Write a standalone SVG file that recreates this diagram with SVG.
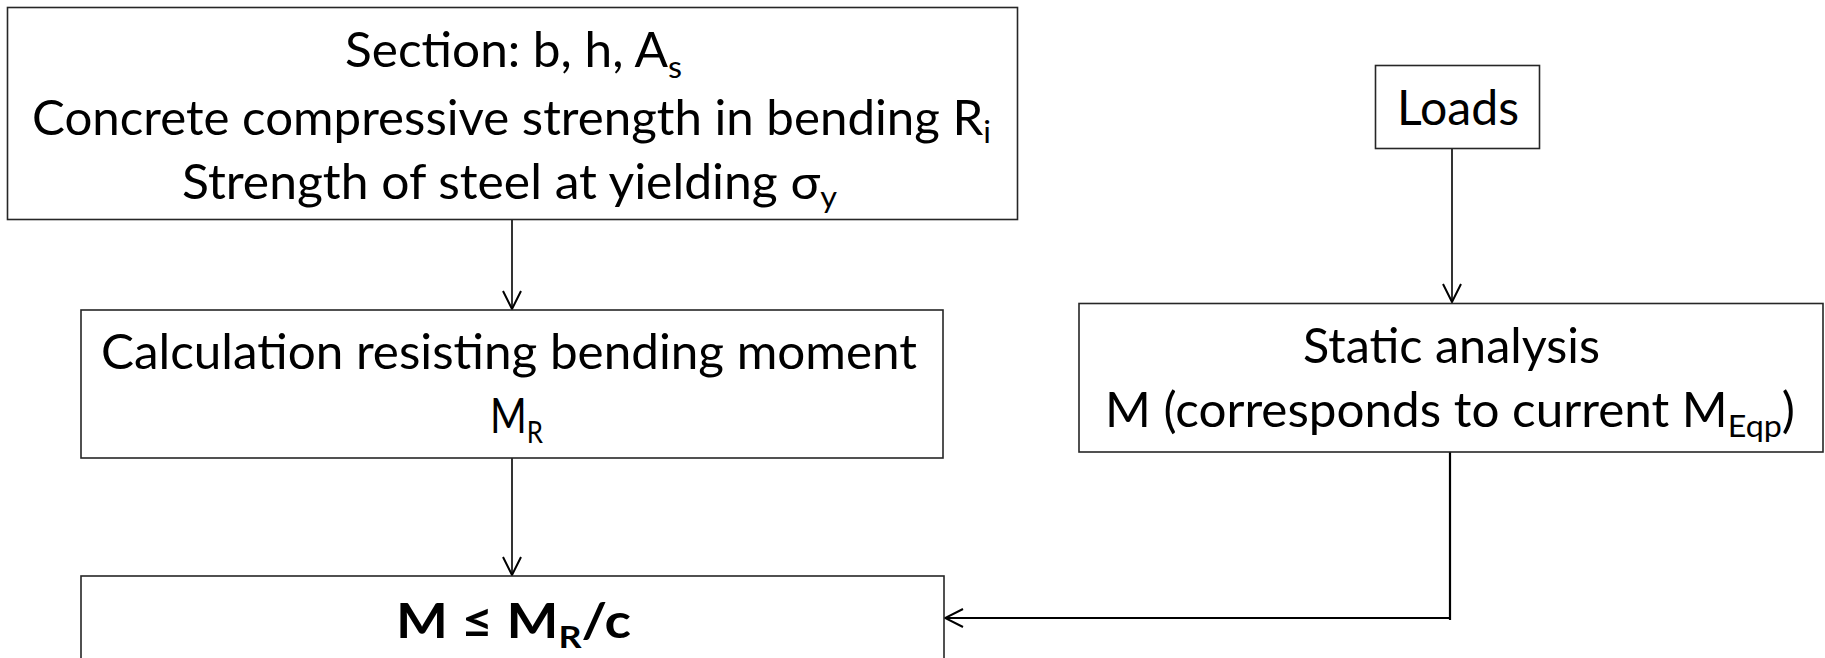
<svg xmlns="http://www.w3.org/2000/svg" width="1825" height="658" viewBox="0 0 1825 658">
<style>
.box{fill:#fff;stroke:#262626;stroke-width:1.6}
.t{font-family:Lato,"Liberation Sans",sans-serif;font-size:47.5px;fill:#000}
.b{font-weight:bold}
.sub{font-size:31px}
.con{fill:none;stroke:#000;stroke-width:1.6}
.con2{fill:none;stroke:#000;stroke-width:2.2}
</style>
<defs>
<marker id="arr" viewBox="0 0 20 20" refX="19" refY="10" markerWidth="20" markerHeight="20" markerUnits="userSpaceOnUse" orient="auto">
<path d="M1,1 L19,10 L1,19" fill="none" stroke="#000" stroke-width="2"/>
</marker>
</defs>
<rect width="1825" height="658" fill="#fff"/>
<g id="connectors">
<path class="con" d="M512,220 V309" marker-end="url(#arr)"/>
<path class="con" d="M1452,143 V302" marker-end="url(#arr)"/>
<path class="con" d="M512,458 V575" marker-end="url(#arr)"/>
<path class="con2" d="M1450,452 V620 M1450,618 H945" marker-end="url(#arr)"/>
</g>
<g id="node-section">
<rect class="box" x="7.5" y="7.5" width="1010" height="212"/>
<text class="t" x="345" y="67" textLength="337" lengthAdjust="spacingAndGlyphs">Section: b, h, A<tspan class="sub" dy="11">s</tspan></text>
<text class="t" x="32" y="135" textLength="959" lengthAdjust="spacingAndGlyphs">Concrete compressive strength in bending R<tspan class="sub" dy="8">i</tspan></text>
<text class="t" x="182" y="199" textLength="655" lengthAdjust="spacingAndGlyphs">Strength of steel at yielding σ<tspan class="sub" dy="9">y</tspan></text>
</g>
<g id="node-loads">
<rect class="box" x="1375.5" y="65.5" width="164" height="83"/>
<text class="t" x="1397" y="125" textLength="122" lengthAdjust="spacingAndGlyphs">Loads</text>
</g>
<g id="node-calc">
<rect class="box" x="81" y="310" width="862" height="148"/>
<text class="t" x="101" y="369" textLength="816" lengthAdjust="spacingAndGlyphs">Calculation resisting bending moment</text>
<text class="t" x="490" y="433" textLength="53" lengthAdjust="spacingAndGlyphs">M<tspan class="sub" dy="10">R</tspan></text>
</g>
<g id="node-static">
<rect class="box" x="1079" y="303.5" width="744" height="148.5"/>
<text class="t" x="1303" y="363" textLength="297" lengthAdjust="spacingAndGlyphs">Static analysis</text>
<text class="t" x="1105" y="427" textLength="690" lengthAdjust="spacingAndGlyphs">M (corresponds to current M<tspan class="sub" dy="10">Eqp</tspan><tspan dy="-10">)</tspan></text>
</g>
<g id="node-check">
<rect class="box" x="81" y="576" width="863" height="100"/>
<text class="t b" x="396" y="638" textLength="235" lengthAdjust="spacingAndGlyphs">M ≤ M<tspan class="sub" dy="10">R</tspan><tspan dy="-10">/c</tspan></text>
</g>
</svg>
